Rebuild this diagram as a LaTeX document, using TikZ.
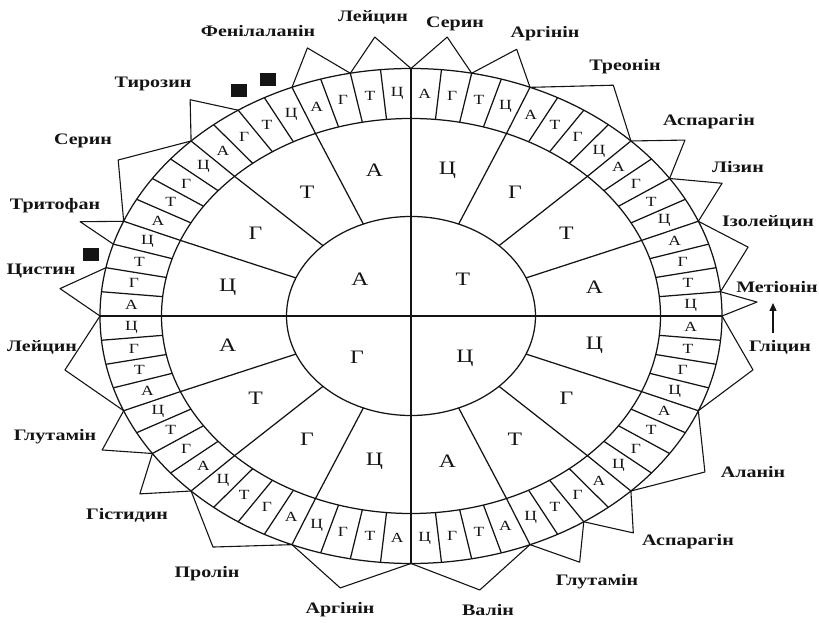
\documentclass[tikz,border=0pt]{standalone}
\usepackage{fontspec}
\setmainfont{Liberation Serif}[FakeStretch=1.25]
\usepackage{tikz}
\usetikzlibrary{arrows.meta}
\definecolor{CodeInk}{HTML}{141414}
% semi-axes of the three ellipses (pt)
\newcommand{\wheelInA}{124.5}
\newcommand{\wheelInB}{99.5}
\newcommand{\wheelMidA}{249.5}
\newcommand{\wheelMidB}{197.5}
\newcommand{\wheelOutA}{311}
\newcommand{\wheelOutB}{247.5}

\begin{document}
\begin{tikzpicture}[
    x=1pt, y=1pt, line join=round,
    ring/.style={draw=CodeInk, line width=1.25pt},
    tooth/.style={draw=CodeInk, line width=1.1pt},
    cell/.style={
      font=\fontsize{14}{14}\selectfont,
      text=CodeInk,
      inner sep=0pt,
    },
    letterbig/.style={
      font=\fontsize{19}{19}\selectfont,
      text=CodeInk,
      inner sep=0pt,
    },
    amino/.style={
      font=\fontsize{16}{16}\selectfont\bfseries,
      text=CodeInk,
      anchor=base,
      inner sep=0pt,
    },
    stopmark/.style={
      fill=CodeInk,
      inner sep=0pt,
      minimum width=16pt,
      minimum height=13pt,
    },
  ]
    \useasboundingbox (-411,-307) rectangle (408,316);

    \draw[ring] (0,0) ellipse [x radius=\wheelOutA, y radius=\wheelOutB];
    \draw[ring] (0,0) ellipse [x radius=\wheelMidA, y radius=\wheelMidB];
    \draw[ring] (0,0) ellipse [x radius=\wheelInA, y radius=\wheelInB];

    % 64 cells of the outer ring, 16 sectors of the middle ring
    \foreach \k in {0,...,63}
      \draw[ring] ({\wheelMidA*cos(\k*5.625)},{\wheelMidB*sin(\k*5.625)})
        -- ({\wheelOutA*cos(\k*5.625)},{\wheelOutB*sin(\k*5.625)});
    \foreach \k in {0,...,15}
      \draw[ring] ({\wheelInA*cos(\k*22.5)},{\wheelInB*sin(\k*22.5)})
        -- ({\wheelMidA*cos(\k*22.5)},{\wheelMidB*sin(\k*22.5)});
    \draw[ring] (-\wheelOutA,0) -- (\wheelOutA,0);
    \draw[ring] (0,-\wheelOutB) -- (0,\wheelOutB);

    \node[letterbig] (qa) at (-51,37) {А};
    \node[letterbig] (qt) at (52,37) {Т};
    \node[letterbig] (qg) at (-54,-41) {Г};
    \node[letterbig] (qc) at (54,-42) {Ц};

    \foreach \c [count=\s from 0] in {Ц,Г,Т,А,Ц,Г,Т,А,Ц,Г,Т,А,Ц,Г,Т,А}
      \node[letterbig] (mid\s) at ({187*cos(90-(\s+0.5)*22.5)},{148.5*sin(90-(\s+0.5)*22.5)}) {\c};

    \foreach \c [count=\j from 0] in {А,Г,Т,Ц,А,Т,Г,Ц,А,Г,Т,Ц,А,Г,Т,Ц,
        А,Т,Г,Ц,А,Т,Г,Ц,А,Г,Т,Ц,А,Т,Г,Ц,
        А,Т,Г,Ц,А,Г,Т,Ц,А,Г,Т,Ц,А,Т,Г,Ц,
        А,Г,Т,Ц,А,Т,Г,Ц,А,Г,Т,Ц,А,Г,Т,Ц}
      \node[cell] (cell\j) at ({280*cos(90-(\j+0.5)*5.625)},{222.5*sin(90-(\j+0.5)*5.625)}) {\c};

    % teeth: start angle / end angle / apex angle / apex scale
    \foreach \ta/\tb/\tc/\ts in {
        168.75/180/174.4/1.134, 157.5/163.125/160.3/1.13,
        135/157.5/146.2/1.133, 123.75/135/129.1/1.126,
        101.25/112.5/107.1/1.133, 90/101.25/95.9/1.133,
        78.75/90/84.1/1.133, 67.5/78.75/72.5/1.13,
        45/67.5/55.1/1.137, 33.75/45/38.9/1.132,
        22.5/33.75/28.2/1.135, 5.625/22.5/14.4/1.119,
        0/5.625/2.9/1.114, -22.5/0/-11.2/1.121,
        -45/-22.5/-33.7/1.136, -56.25/-45/-50.8/1.131,
        -67.5/-56.25/-61.4/1.133, -90/-67.5/-78.7/1.129,
        -112.5/-90/-101.7/1.122, -135/-112.5/-124.3/1.13,
        -146.25/-135/-140.5/1.13, -157.5/-146.25/-151.4/1.131,
        -180/-157.5/-168.9/1.134}
      \draw[tooth] ({\wheelOutA*cos(\ta)},{\wheelOutB*sin(\ta)})
        -- ({\ts*\wheelOutA*cos(\tc)},{\ts*\wheelOutB*sin(\tc)})
        -- ({\wheelOutA*cos(\tb)},{\wheelOutB*sin(\tb)});

    \node[stopmark] (stop1) at (-320,61) {};
    \node[stopmark] (stop2) at (-171.5,225) {};
    \node[stopmark] (stop3) at (-142.5,236) {};

    \node[amino] (phe) at (-153,279) {Фенілаланін};
    \node[amino] (leu1) at (-38,294) {Лейцин};
    \node[amino] (ser1) at (44,288) {Серин};
    \node[amino] (arg1) at (134,278) {Аргінін};
    \node[amino] (thr) at (214,245) {Треонін};
    \node[amino] (asn1) at (298,190) {Аспарагін};
    \node[amino] (lys) at (327,143) {Лізин};
    \node[amino, anchor=base east] (ile) at (403,89) {Ізолейцин};
    \node[amino] (met) at (366,23) {Метіонін};
    \node[amino] (gly) at (369,-36) {Гліцин};
    \node[amino] (ala) at (342,-162) {Аланін};
    \node[amino] (asn2) at (277,-229) {Аспарагін};
    \node[amino] (gln1) at (186,-269) {Глутамін};
    \node[amino] (val) at (77,-299) {Валін};
    \node[amino] (arg2) at (-71,-297) {Аргінін};
    \node[amino] (pro) at (-204,-261) {Пролін};
    \node[amino] (his) at (-284,-204) {Гістидин};
    \node[amino] (gln2) at (-356,-125) {Глутамін};
    \node[amino] (leu2) at (-369,-36) {Лейцин};
    \node[amino] (cys) at (-370,41) {Цистин};
    \node[amino] (trp) at (-356,106) {Тритофан};
    \node[amino] (ser2) at (-328,171) {Серин};
    \node[amino] (tyr) at (-258,228) {Тирозин};

    \coordinate (arrtail) at (362,-17);
    \coordinate (arrtip) at (362,13);
    \draw[ring, -{Triangle[length=8pt, width=7pt]}] (arrtail) -- (arrtip);
  \end{tikzpicture}
\end{document}
